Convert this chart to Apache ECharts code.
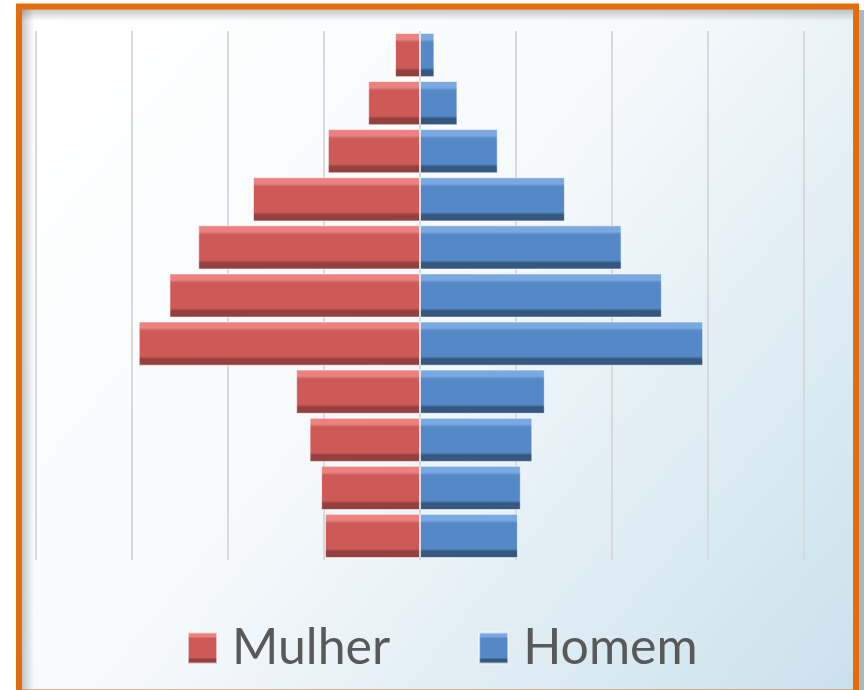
<!DOCTYPE html>
<html>
<head>
<meta charset="utf-8">
<script src="https://cdn.jsdelivr.net/npm/echarts@6/dist/echarts.min.js"></script>
<style>html,body{margin:0;padding:0;background:#fff;}#c{width:864px;height:690px;}</style>
</head>
<body>
<div id="c"></div>
<script>
// Age groups, bottom to top
const categories = ['0-4','5-9','10-14','15-19','20-24','25-29','30-34','35-39','40-44','45-49','50+'];
// values (bottom to top); Mulher drawn to the left (negative)
const mulher = [0.99, 1.03, 1.15, 1.29, 2.93, 2.61, 2.31, 1.74, 0.96, 0.54, 0.26];
const homem  = [1.02, 1.05, 1.17, 1.30, 2.95, 2.52, 2.10, 1.51, 0.81, 0.39, 0.15];
const seriesNames = ['Mulher', 'Homem'];
const axisMin = -4, axisMax = 4, axisInterval = 1;

function bevel(light, main, dark) {
  return new echarts.graphic.LinearGradient(0, 0, 0, 1, [
    {offset: 0, color: light},
    {offset: 0.15, color: light},
    {offset: 0.21, color: main},
    {offset: 0.79, color: main},
    {offset: 0.85, color: dark},
    {offset: 1, color: dark}
  ]);
}
const redFill = bevel('#E98280', '#CD5A57', '#93403E');
const blueFill = bevel('#7AA8E0', '#5588C7', '#34587F');

const chart = echarts.init(document.getElementById('c'));
chart.setOption({
  backgroundColor: '#ffffff',
  animation: false,
  graphic: [
    {type: 'rect', z: -10, shape: {x: 859, y: 10, width: 5, height: 680}, style: {fill: '#A9B8C0'}},
    {type: 'rect', z: -10, shape: {x: 19, y: 7, width: 837, height: 690},
      style: {fill: new echarts.graphic.LinearGradient(0, 0, 1, 1, [
        {offset: 0, color: '#FFFFFF'},
        {offset: 0.45, color: '#F7FAFC'},
        {offset: 1, color: '#C9E1EC'}
      ])}},
    {type: 'rect', z: -9, shape: {x: 22, y: 9, width: 834, height: 12},
      style: {fill: new echarts.graphic.LinearGradient(0, 0, 0, 1, [
        {offset: 0, color: 'rgba(0,0,0,0.22)'},
        {offset: 1, color: 'rgba(0,0,0,0)'}
      ])}},
    {type: 'rect', z: -9, shape: {x: 22, y: 9, width: 12, height: 690},
      style: {fill: new echarts.graphic.LinearGradient(0, 0, 1, 0, [
        {offset: 0, color: 'rgba(0,0,0,0.22)'},
        {offset: 1, color: 'rgba(0,0,0,0)'}
      ])}},
    {type: 'rect', z: 100, shape: {x: 19, y: 6.5, width: 837, height: 686},
      style: {fill: 'none', stroke: '#E46C0A', lineWidth: 6}}
  ],
  grid: {left: 36, right: 60, top: 31, bottom: 130},
  xAxis: {
    type: 'value', min: axisMin, max: axisMax, interval: axisInterval,
    axisLine: {show: false}, axisTick: {show: false}, axisLabel: {show: false},
    splitLine: {show: true, lineStyle: {color: '#D9D9D9', width: 2}}
  },
  yAxis: {
    type: 'category', data: categories,
    axisLine: {show: false}, axisTick: {show: false}, axisLabel: {show: false},
    splitLine: {show: false}
  },
  legend: {
    data: seriesNames,
    left: 182, top: 618,
    itemWidth: 29, itemHeight: 31, itemGap: 88,
    icon: 'rect',
    textStyle: {fontFamily: 'Lato', fontSize: 50, color: '#595959', padding: [0, 0, 0, 10]}
  },
  series: [
    {
      name: seriesNames[0], type: 'bar', barGap: '-100%', barCategoryGap: '8%',
      data: mulher.map(v => -v),
      itemStyle: {color: redFill, borderColor: 'rgba(255,255,255,0.6)', borderWidth: 1}
    },
    {
      name: seriesNames[1], type: 'bar', barGap: '-100%', barCategoryGap: '8%',
      data: homem,
      itemStyle: {color: blueFill, borderColor: 'rgba(255,255,255,0.6)', borderWidth: 1}
    }
  ]
});
</script>
</body>
</html>
